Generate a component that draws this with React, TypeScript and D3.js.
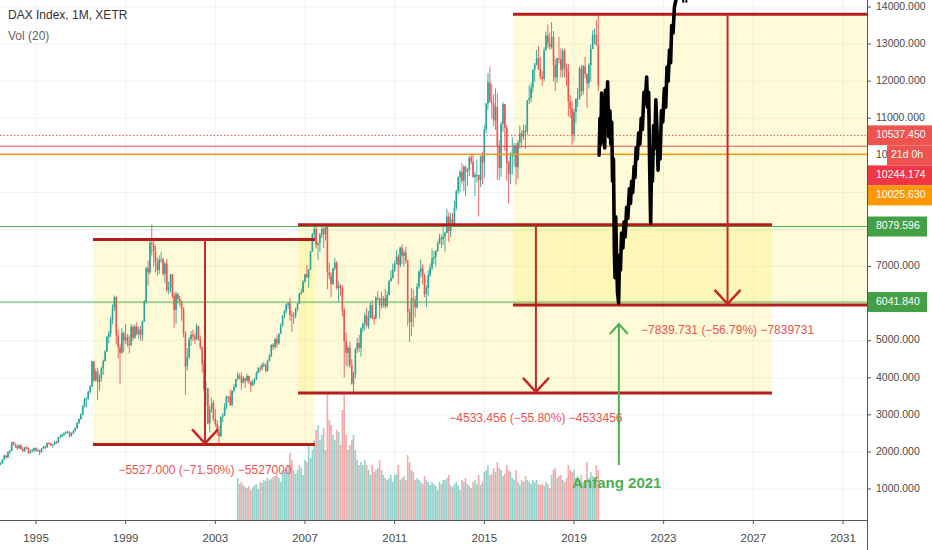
import React from "react";
import * as d3 from "d3";

const W = 932;
const H = 550;
const PLOT_R = 867;
const PLOT_B = 520;
const FONT = "'Liberation Sans', Arial, sans-serif";

// Monthly DAX candles, starting May 1993 (open of first bar = 1620, later opens = previous close)
const startYear = 1993;
const startMonth = 4;
const firstOpen = 1620;
const closes = [
  1660, 1690, 1790, 1900, 1850, 2000, 2030, 2267,
  2200, 2160, 2100, 2180, 2080, 2030, 2120, 2110, 1970, 2020, 2050, 2107,
  2040, 2050, 1990, 2090, 2140, 2125, 2240, 2230, 2180, 2200, 2270, 2254,
  2400, 2420, 2460, 2500, 2530, 2530, 2430, 2510, 2560, 2640, 2780, 2889,
  3000, 3230, 3420, 3440, 3620, 3760, 4440, 3930, 4170, 3890, 4010, 4250,
  4450, 4710, 5100, 5190, 5570, 5900, 6170, 5140, 4830, 4670, 5200, 5002,
  5100, 4910, 4880, 5370, 5080, 5380, 5180, 5300, 5150, 5520, 6040, 6958,
  6840, 7640, 7600, 7410, 7110, 6900, 7190, 7190, 6800, 7080, 6370, 6434,
  6790, 6210, 5830, 6260, 6120, 6060, 5860, 5190, 4310, 4560, 5040, 5160,
  5110, 5040, 5400, 5040, 4820, 4380, 3700, 3710, 2770, 3150, 3320, 2893,
  2750, 2550, 2420, 2940, 2980, 3220, 3490, 3480, 3260, 3650, 3750, 3965,
  4060, 4020, 3860, 3990, 3920, 4050, 3900, 3790, 3890, 3960, 4130, 4256,
  4250, 4350, 4350, 4180, 4460, 4590, 4890, 4830, 5040, 4930, 5190, 5408,
  5670, 5800, 5970, 6010, 5690, 5680, 5680, 5860, 6000, 6270, 6310, 6597,
  6790, 6710, 6920, 7410, 7880, 8010, 7580, 7640, 7860, 8020, 7870, 8067,
  6850, 6750, 6530, 6950, 7100, 6420, 6480, 6420, 5830, 4990, 4670, 4810,
  4340, 3840, 4080, 4770, 4940, 4810, 5330, 5460, 5680, 5410, 5630, 5957,
  5610, 5600, 6150, 6140, 5960, 5970, 6150, 5930, 6230, 6600, 6690, 6914,
  7080, 7270, 7040, 7510, 7290, 7380, 7160, 5780, 5500, 6140, 6090, 5898,
  6460, 6860, 6950, 6760, 6260, 6420, 6770, 6970, 7220, 7260, 7410, 7612,
  7780, 7740, 7800, 7910, 8350, 7960, 8280, 8100, 8590, 9030, 9410, 9552,
  9310, 9690, 9560, 9600, 9940, 9830, 9410, 9470, 9470, 9330, 9980, 9806,
  10690, 11400, 11970, 11450, 11410, 10940, 11310, 10260, 9660, 10850, 11380, 10743,
  9800, 9500, 9970, 10040, 10260, 9680, 10340, 10590, 10510, 10670, 10640, 11481,
  11540, 11830, 12310, 12440, 12620, 12330, 12120, 12060, 12830, 13230, 13020, 12918,
  13190, 12440, 12100, 12610, 12600, 12310, 12810, 12360, 12250, 11450, 11260, 10559,
  11170, 11520, 11530, 12340, 11730, 12400, 12190, 11940, 12430, 12870, 13240, 13249,
  12980, 11890,
];
const highs = [
  1700, 1720, 1810, 1930, 1920, 2020, 2060, 2270,
  2280, 2230, 2200, 2200, 2200, 2130, 2140, 2160, 2120, 2060, 2080, 2120,
  2120, 2090, 2060, 2100, 2170, 2170, 2250, 2270, 2250, 2220, 2290, 2300,
  2410, 2480, 2500, 2530, 2570, 2580, 2560, 2530, 2600, 2660, 2800, 2900,
  3050, 3260, 3460, 3480, 3650, 3800, 4460, 4440, 4250, 4270, 4090, 4300,
  4490, 4740, 5130, 5260, 5650, 5980, 6220, 6200, 5300, 4900, 5330, 5250,
  5450, 5180, 5140, 5450, 5420, 5440, 5500, 5380, 5400, 5540, 6100, 6990,
  7160, 7700, 8136, 7760, 7560, 7230, 7300, 7400, 7240, 7120, 7200, 6600,
  6800, 6800, 6300, 6320, 6290, 6210, 6080, 5900, 5260, 4800, 5100, 5260,
  5300, 5200, 5460, 5400, 5140, 4850, 4490, 3900, 3720, 3250, 3460, 3400,
  3160, 2850, 2700, 2950, 3050, 3320, 3520, 3510, 3680, 3660, 3830, 3970,
  4160, 4120, 4150, 4060, 4000, 4110, 4060, 3900, 3950, 4000, 4170, 4290,
  4320, 4400, 4430, 4390, 4490, 4640, 4900, 4930, 5070, 5160, 5200, 5470,
  5700, 5830, 6000, 6050, 6160, 5800, 5770, 5890, 6020, 6290, 6400, 6630,
  6800, 7040, 6940, 7420, 7900, 8090, 8151, 7650, 7900, 8060, 8050, 8100,
  8100, 7100, 6840, 6960, 7230, 7150, 6600, 6530, 6500, 5890, 5220, 4880,
  4970, 4500, 4170, 4800, 5070, 5160, 5360, 5480, 5760, 5890, 5800, 6030,
  6090, 5680, 6200, 6340, 6160, 6320, 6210, 6390, 6330, 6640, 6900, 7080,
  7160, 7440, 7330, 7530, 7600, 7440, 7530, 7180, 5860, 6420, 6380, 6200,
  6550, 6900, 7190, 7060, 6800, 6500, 6900, 7080, 7480, 7420, 7440, 7690,
  7880, 7860, 8070, 7940, 8560, 8460, 8450, 8440, 8770, 9070, 9430, 9600,
  9790, 9730, 9720, 9650, 9970, 10050, 10030, 9560, 9890, 9480, 9990, 10090,
  10810, 11410, 12220, 12390, 11920, 11640, 11800, 11670, 10400, 10900, 11430, 11390,
  10810, 9850, 10100, 10490, 10330, 10330, 10410, 10800, 10680, 10830, 10810, 11490,
  11890, 11960, 12310, 12490, 12840, 12950, 12650, 12270, 12910, 13340, 13530, 13310,
  13596, 13350, 12600, 12640, 13200, 12880, 12890, 12870, 12480, 12460, 11630, 11470,
  11260, 11540, 11820, 12390, 12440, 12440, 12660, 12210, 12490, 12990, 13370, 13420,
  13640, 13795,
];
const lows = [
  1600, 1640, 1680, 1780, 1820, 1840, 1950, 2020,
  2170, 2100, 2060, 2080, 2060, 1980, 2000, 2070, 1950, 1950, 1990, 1990,
  2000, 2010, 1910, 1980, 2080, 2080, 2110, 2190, 2150, 2110, 2180, 2220,
  2250, 2370, 2400, 2430, 2480, 2500, 2380, 2410, 2480, 2550, 2620, 2750,
  2860, 2990, 3200, 3200, 3410, 3570, 3750, 3880, 3900, 3400, 3650, 3900,
  4080, 4430, 4700, 4930, 5100, 5440, 5800, 4900, 4520, 3830, 4650, 4700,
  4900, 4840, 4660, 4850, 5000, 5050, 5140, 5050, 5000, 4990, 5500, 6000,
  6480, 6790, 7300, 7000, 6840, 6750, 6800, 7100, 6750, 6550, 6300, 6250,
  6300, 6150, 5350, 5450, 6000, 5930, 5540, 5090, 3540, 4200, 4500, 4860,
  4990, 4910, 5000, 5000, 4760, 4140, 3600, 3240, 2740, 2520, 3060, 2830,
  2680, 2440, 2188, 2400, 2800, 2960, 3150, 3330, 3250, 3250, 3600, 3720,
  3930, 3950, 3680, 3850, 3730, 3880, 3830, 3620, 3770, 3820, 3940, 4120,
  4160, 4200, 4290, 4150, 4170, 4440, 4560, 4750, 4780, 4810, 4890, 5180,
  5380, 5600, 5740, 5860, 5540, 5240, 5450, 5600, 5800, 5990, 6240, 6290,
  6560, 6700, 6430, 6900, 7400, 7670, 7490, 7180, 7400, 7760, 7500, 7700,
  6390, 6650, 6170, 6500, 6900, 6380, 6040, 6220, 5650, 4010, 4330, 4300,
  4270, 3810, 3589, 3990, 4670, 4700, 4570, 5220, 5280, 5360, 5320, 5600,
  5580, 5430, 5580, 6080, 5600, 5870, 5890, 5860, 5890, 6220, 6600, 6680,
  6860, 7060, 6510, 6970, 7060, 6990, 7080, 5400, 4960, 5120, 5370, 5620,
  5860, 6400, 6700, 6520, 6170, 5910, 6200, 6710, 6900, 7070, 7000, 7400,
  7600, 7500, 7580, 7400, 7900, 7660, 7800, 8060, 8080, 8520, 8950, 9000,
  9240, 9030, 8900, 9170, 9440, 9750, 9400, 8900, 9270, 8350, 9140, 9220,
  9380, 10600, 11220, 11420, 11000, 10790, 10680, 9340, 9330, 9420, 10640, 10120,
  9310, 8700, 9230, 9480, 9700, 9210, 9370, 10180, 10200, 10410, 10170, 10550,
  11380, 11420, 11690, 11990, 12430, 12300, 12050, 11870, 12000, 12830, 12900, 12840,
  12870, 12000, 11730, 11950, 12480, 12100, 12100, 12100, 11870, 11050, 11010, 10280,
  10380, 10860, 11300, 11500, 11600, 11630, 12080, 11270, 11800, 11990, 12870, 12990,
  12950, 11720,
];

// Monthly volume (relative units), starting January 2004
const volumeStartYear = 2004;
const volumes = [
  42, 36, 38, 35, 33, 32, 34, 30, 33, 35, 36, 31,
  38, 37, 40, 39, 42, 40, 41, 43, 44, 46, 42, 38,
  50, 48, 52, 55, 67, 60, 50, 46, 50, 55, 52, 45,
  60, 58, 75, 62, 70, 80, 90, 95, 80, 85, 92, 70,
  127, 100, 95, 85, 80, 90, 88, 75, 110, 125, 85, 70,
  75, 80, 85, 70, 60, 55, 58, 55, 60, 55, 50, 45,
  55, 48, 50, 52, 60, 50, 45, 42, 40, 42, 45, 38,
  45, 46, 55, 40, 42, 44, 40, 65, 58, 50, 48, 40,
  42, 40, 38, 36, 44, 40, 38, 35, 38, 36, 34, 30,
  38, 36, 40, 40, 42, 45, 35, 33, 36, 38, 35, 30,
  40, 38, 42, 36, 34, 32, 38, 40, 36, 45, 35, 38,
  48, 50, 55, 45, 46, 52, 48, 58, 52, 50, 44, 46,
  55, 50, 48, 42, 40, 50, 38, 35, 40, 38, 44, 40,
  38, 36, 40, 38, 40, 36, 35, 36, 34, 38, 36, 32,
  45, 50, 52, 42, 44, 45, 40, 38, 42, 55, 50, 48,
  50, 42, 44, 40, 45, 38, 40, 58, 42, 48, 44, 38,
  55, 50,
];

// Hand-drawn projection (year fraction, index value)
const projectionPath: [number, number][] = [
  [2020.12, 10000], [2020.16, 11000], [2020.2, 10300], [2020.23, 11680], [2020.27, 10400],
  [2020.3, 11500], [2020.33, 11400], [2020.37, 10200], [2020.4, 11750], [2020.45, 10900],
  [2020.5, 11980], [2020.55, 10500], [2020.6, 11200], [2020.64, 10300], [2020.68, 10900],
  [2020.72, 9300], [2020.76, 9900], [2020.8, 7400], [2020.83, 6700], [2020.86, 8340],
  [2020.9, 7200], [2020.94, 6300], [2020.99, 6020], [2021.03, 7300], [2021.07, 6900],
  [2021.12, 7900], [2021.18, 7500], [2021.23, 8200], [2021.28, 7800], [2021.35, 8600],
  [2021.4, 8300], [2021.47, 9100], [2021.52, 8700], [2021.57, 9300], [2021.62, 9000],
  [2021.68, 9700], [2021.72, 9400], [2021.77, 10200], [2021.82, 9900], [2021.88, 10600],
  [2021.94, 10300], [2022.0, 11000], [2022.05, 10700], [2022.12, 11700], [2022.18, 11400],
  [2022.24, 12110], [2022.28, 11300], [2022.33, 11700], [2022.38, 9500], [2022.42, 8170],
  [2022.46, 9800], [2022.5, 9300], [2022.55, 10800], [2022.6, 10200], [2022.65, 11500],
  [2022.7, 10700], [2022.75, 9600], [2022.79, 10400], [2022.84, 9900], [2022.9, 11200],
  [2022.96, 10900], [2023.03, 11800], [2023.09, 11300], [2023.15, 12380], [2023.2, 12000],
  [2023.26, 12840], [2023.31, 12500], [2023.36, 13500], [2023.42, 13300], [2023.48, 14000],
  [2023.55, 14200], [2023.62, 14400],
];
const projectionTicks: [number, number][][] = [
  [[2023.86, 14230], [2023.88, 14120]],
  [[2024.0, 14230], [2024.02, 14120]],
];

const yearTicks = [1995, 1999, 2003, 2007, 2011, 2015, 2019, 2023, 2027, 2031];
const priceTicks = [1000, 2000, 3000, 4000, 5000, 6000, 7000, 8000, 9000, 10000, 11000, 12000, 13000, 14000];

// Price range drawings
const ranges = [
  { from: 1997.54, to: 2007.44, top: 7730, bottom: 2203, arrowAt: 2002.54, label: "\u22125527.000 (\u221271.50%) \u22125527000" },
  { from: 2006.69, to: 2027.83, top: 8124, bottom: 3591, arrowAt: 2017.3, label: "\u22124533.456 (\u221255.80%) \u22124533456" },
  { from: 2016.28, to: 2032.5, top: 13805, bottom: 5965, arrowAt: 2025.85, label: "\u22127839.731 (\u221256.79%) \u22127839731" },
];

const priceLines = [
  { value: 10537.45, color: "#ef5350", dash: "1.5 2", width: 1 },
  { value: 10244.174, color: "#ef5350", dash: "", width: 1 },
  { value: 10025.63, color: "#ff9800", dash: "", width: 1.5 },
  { value: 8079.596, color: "#4caf50", dash: "", width: 1 },
  { value: 6041.84, color: "#4caf50", dash: "", width: 1 },
];

const axisLabels = [
  { value: 10537.45, text: "10537.450", bg: "#ef5350", kind: "plain" },
  { value: 10244.174, text: "10", bg: "#ef5350", kind: "countdown", extra: "21d 0h" },
  { value: 10244.174, text: "10244.174", bg: "#f23645", kind: "plain" },
  { value: 10025.63, text: "10025.630", bg: "#ff9800", kind: "plain" },
  { value: 8079.596, text: "8079.596", bg: "#43a047", kind: "narrow" },
  { value: 6041.84, text: "6041.840", bg: "#43a047", kind: "narrow" },
];

const annotationYear = 2021.0;
const annotationFrom = 1000;
const annotationTo = 5450;

const yf = (v: number) => {
  const y = Math.floor(v);
  const s = Date.UTC(y, 0, 1);
  const e = Date.UTC(y + 1, 0, 1);
  return new Date(s + (v - y) * (e - s));
};

export default function App() {
  const x = d3.scaleUtc().domain([Date.UTC(1995, 0, 1), Date.UTC(2031, 0, 1)]).range([36, 843]);
  const y = d3.scaleLinear().domain([0, 14000]).range([526.08, 7]);
  const yVol = d3.scaleLinear().domain([0, 130]).range([PLOT_B, PLOT_B - 130]);

  const candles = closes.map((c, i) => {
    const o = i === 0 ? firstOpen : closes[i - 1];
    return { date: new Date(Date.UTC(startYear, startMonth + i, 1)), o, h: highs[i], l: lows[i], c };
  });
  const volIndexOffset = (volumeStartYear - startYear) * 12 - startMonth;
  const volBars = volumes.map((v, j) => {
    const cd = candles[volIndexOffset + j];
    return { date: new Date(Date.UTC(volumeStartYear, j, 1)), v, up: cd ? cd.c >= cd.o : true };
  });

  const line = d3
    .line<[number, number]>()
    .x((d) => x(yf(d[0])))
    .y((d) => y(d[1]));

  // stacked axis labels
  const LH = 20;
  let lastBottom = -Infinity;
  const placed = axisLabels.map((a) => {
    let top = y(a.value) - LH / 2;
    if (top < lastBottom) top = lastBottom;
    lastBottom = top + LH;
    return { ...a, top };
  });
  // tick labels hidden behind label boxes
  const visibleTicks = priceTicks.filter((p) => {
    const ty = y(p);
    return !placed.some((a) => ty > a.top - 5 && ty < a.top + LH + 5);
  });

  const up = "#26a69a";
  const down = "#ef5350";
  const darkRed = "#b71c1c";

  return (
    <svg
      width={W}
      height={H}
      style={{ position: "absolute", left: 0, top: 0, background: "#fff" }}
      fontFamily={FONT}
    >
      <defs>
        <clipPath id="plot">
          <rect x={0} y={0} width={PLOT_R} height={PLOT_B} />
        </clipPath>
      </defs>
      <rect x={0} y={0} width={W} height={H} fill="#fff" />
      <g clipPath="url(#plot)">
        {priceTicks.map((p) => (
          <line key={"hg" + p} x1={0} x2={PLOT_R} y1={y(p)} y2={y(p)} stroke="#eef1f6" strokeWidth={1} />
        ))}
        {yearTicks.map((t) => (
          <line key={"vg" + t} x1={x(new Date(Date.UTC(t, 0, 1)))} x2={x(new Date(Date.UTC(t, 0, 1)))} y1={0} y2={PLOT_B} stroke="#eef1f6" strokeWidth={1} />
        ))}
        {ranges.map((r, i) => (
          <rect
            key={"rf" + i}
            x={x(yf(r.from))}
            y={y(r.top)}
            width={x(yf(r.to)) - x(yf(r.from))}
            height={y(r.bottom) - y(r.top)}
            fill="rgba(255, 235, 59, 0.2)"
          />
        ))}
        {volBars.map((b, i) => (
          <rect
            key={"v" + i}
            x={x(b.date) - 0.8}
            y={yVol(b.v)}
            width={1.6}
            height={PLOT_B - yVol(b.v)}
            fill={b.up ? "rgba(38,166,154,0.5)" : "rgba(239,83,80,0.5)"}
          />
        ))}
        {candles.map((c, i) => {
          const col = c.c >= c.o ? up : down;
          const cx = x(c.date);
          const yt = y(Math.max(c.o, c.c));
          const yb = y(Math.min(c.o, c.c));
          return (
            <g key={"c" + i}>
              <line x1={cx} x2={cx} y1={y(c.h)} y2={y(c.l)} stroke={col} strokeWidth={0.9} />
              <rect x={cx - 0.8} y={yt} width={1.6} height={Math.max(1, yb - yt)} fill={col} />
            </g>
          );
        })}
        {priceLines.map((p, i) => (
          <line
            key={"pl" + i}
            x1={0}
            x2={PLOT_R}
            y1={y(p.value)}
            y2={y(p.value)}
            stroke={p.color}
            strokeWidth={p.width}
            strokeDasharray={p.dash || undefined}
          />
        ))}
        {ranges.map((r, i) => {
          const x0 = x(yf(r.from));
          const x1 = x(yf(r.to));
          const ax = x(yf(r.arrowAt));
          const yt = y(r.top);
          const yb = y(r.bottom);
          return (
            <g key={"rb" + i}>
              <line x1={x0} x2={x1} y1={yt} y2={yt} stroke={darkRed} strokeWidth={3} />
              <line x1={x0} x2={x1} y1={yb} y2={yb} stroke={darkRed} strokeWidth={3} />
              <line x1={ax} x2={ax} y1={yt} y2={yb - 1} stroke="#c62828" strokeWidth={2} />
              <polyline
                points={`${ax - 13},${yb - 15} ${ax},${yb - 1} ${ax + 13},${yb - 15}`}
                fill="none"
                stroke="#c62828"
                strokeWidth={2.5}
              />
              <text x={ax} y={yb + 26} textAnchor="middle" dominantBaseline="middle" fontSize={12} fill="#ef5350">
                {r.label}
              </text>
            </g>
          );
        })}
        <path d={line(projectionPath) || ""} fill="none" stroke="#000" strokeWidth={3.6} strokeLinejoin="round" strokeLinecap="round" />
        {projectionTicks.map((t, i) => (
          <path key={"pt" + i} d={line(t) || ""} fill="none" stroke="#000" strokeWidth={2} />
        ))}
        {(() => {
          const ax = x(yf(annotationYear));
          const yt = y(annotationTo);
          return (
            <g>
              <line x1={ax} x2={ax} y1={y(annotationFrom) - 24} y2={yt} stroke="#4caf50" strokeWidth={2} />
              <polyline points={`${ax - 9},${yt + 10} ${ax},${yt} ${ax + 9},${yt + 10}`} fill="none" stroke="#4caf50" strokeWidth={2} />
              <text x={ax - 2} y={y(annotationFrom) - 5} textAnchor="middle" dominantBaseline="middle" fontSize={15} fontWeight="bold" fill="#4caf50">
                Anfang 2021
              </text>
            </g>
          );
        })()}
      </g>
      {/* title */}
      <text x={8} y={19} fontSize={12} fill="#333">DAX Index, 1M, XETR</text>
      <text x={8} y={40} fontSize={12} fill="#666">Vol (20)</text>

      {/* axes */}
      <line x1={0} x2={PLOT_R} y1={PLOT_B + 0.5} y2={PLOT_B + 0.5} stroke="#555" strokeWidth={1} />
      <line x1={PLOT_R + 0.5} x2={PLOT_R + 0.5} y1={0} y2={H} stroke="#555" strokeWidth={1} />
      {yearTicks.map((t) => {
        const tx = x(new Date(Date.UTC(t, 0, 1)));
        return (
          <g key={"xt" + t}>
            <line x1={tx} x2={tx} y1={PLOT_B} y2={PLOT_B + 4} stroke="#555" />
            <text x={tx} y={542} textAnchor="middle" fontSize={11.5} fill="#4a4a4a">
              {t}
            </text>
          </g>
        );
      })}
      {priceTicks.map((p) => (
        <line key={"ytl" + p} x1={PLOT_R} x2={PLOT_R + 4} y1={y(p)} y2={y(p)} stroke="#555" />
      ))}
      {visibleTicks.map((p) => (
        <text key={"yt" + p} x={876} y={y(p)} dominantBaseline="middle" fontSize={10.5} fill="#4a4a4a">
          {d3.format(".3f")(p)}
        </text>
      ))}
      {placed.map((a, i) => {
        const cy = a.top + LH / 2;
        if (a.kind === "countdown") {
          return (
            <g key={"al" + i}>
              <rect x={PLOT_R + 1} y={a.top} width={20} height={LH} fill="#fff" />
              <text x={876} y={cy} dominantBaseline="middle" fontSize={10.5} fill="#4a4a4a">{a.text}</text>
              <rect x={887} y={a.top} width={W - 887} height={LH} fill={a.bg} />
              <text x={891} y={cy} dominantBaseline="middle" fontSize={10.5} fill="#fff">{a.extra}</text>
            </g>
          );
        }
        const w = a.kind === "narrow" ? 59 : W - PLOT_R;
        return (
          <g key={"al" + i}>
            <rect x={PLOT_R + 1} y={a.top} width={w} height={LH} fill={a.bg} />
            <text x={876} y={cy} dominantBaseline="middle" fontSize={10.5} fill="#fff">{a.text}</text>
          </g>
        );
      })}
    </svg>
  );
}
